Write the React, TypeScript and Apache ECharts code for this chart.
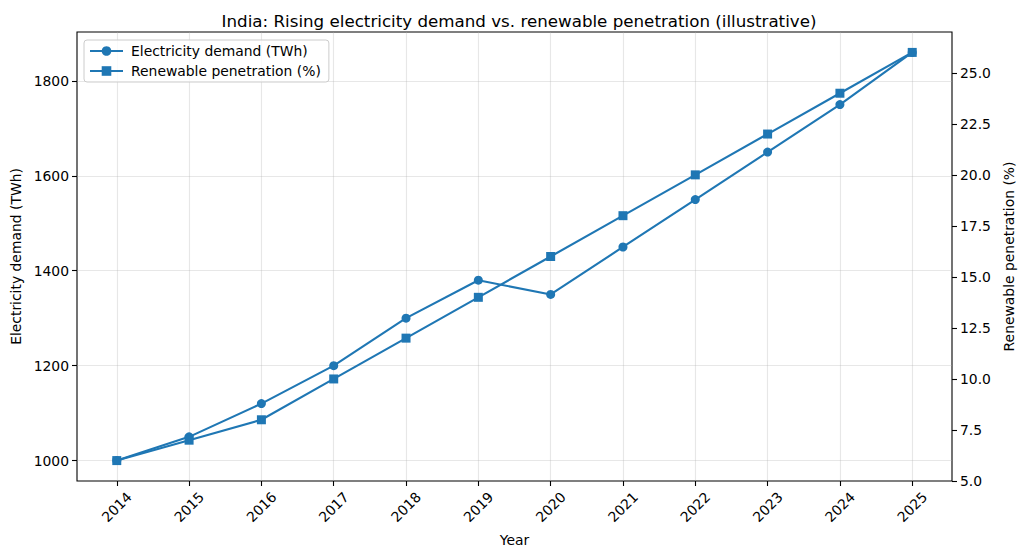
import React, { useEffect, useRef } from "react";
import * as echarts from "echarts";

const years = [2014, 2015, 2016, 2017, 2018, 2019, 2020, 2021, 2022, 2023, 2024, 2025];
const demandTWh = [1000, 1050, 1120, 1200, 1300, 1380, 1350, 1450, 1550, 1650, 1750, 1860];
const renewablePct = [6, 7, 8, 10, 12, 14, 16, 18, 20, 22, 24, 26];
const leftTicks = [1000, 1200, 1400, 1600, 1800];
const rightTicks = [5, 7.5, 10, 12.5, 15, 17.5, 20, 22.5, 25];

const FONT = "DejaVu Sans";
const BLUE = "#1f77b4";

export default function App() {
  const ref = useRef<HTMLDivElement>(null);
  useEffect(() => {
    if (!ref.current) return;
    const chart = echarts.init(ref.current, undefined, { renderer: "svg" });
    const tickStyle = { show: true, length: 5, inside: false, lineStyle: { color: "#000", width: 1.1 } };
    chart.setOption({
      animation: false,
      textStyle: { fontFamily: FONT, color: "#000" },
      title: {
        text: "India: Rising electricity demand vs. renewable penetration (illustrative)",
        left: 514,
        textAlign: "center",
        top: 7,
        textStyle: { fontFamily: FONT, fontSize: 16.7, fontWeight: "normal", color: "#000" },
      },
      grid: {
        left: 77,
        right: 72,
        top: 32,
        bottom: 77,
        show: true,
        borderColor: "#000",
        borderWidth: 1.1,
        backgroundColor: "transparent",
      },
      legend: {
        orient: "vertical",
        left: 84,
        top: 40,
        padding: [4, 8, 4, 5],
        itemWidth: 33,
        itemHeight: 12,
        itemGap: 6,
        backgroundColor: "rgba(255,255,255,0.8)",
        borderColor: "#cccccc",
        borderWidth: 1,
        borderRadius: 3,
        textStyle: { fontFamily: FONT, fontSize: 13.9, color: "#000", padding: [0, 0, 0, 3] },
        data: ["Electricity demand (TWh)", "Renewable penetration (%)"],
      },
      xAxis: {
        type: "value",
        min: 2013.45,
        max: 2025.55,
        name: "Year",
        nameLocation: "middle",
        nameGap: 52,
        nameTextStyle: { fontFamily: FONT, fontSize: 13.9, color: "#000" },
        axisLine: { show: false },
        axisTick: { ...tickStyle, customValues: years },
        axisLabel: {
          customValues: years,
          rotate: 45,
          align: "center",
          verticalAlign: "middle",
          fontFamily: FONT,
          fontSize: 13.9,
          color: "#000",
          margin: 26,
          formatter: (v: number) => String(v),
        },
        splitLine: { show: true, lineStyle: { color: "#b0b0b0", opacity: 0.3, width: 1.1 } },
      },
      yAxis: [
        {
          type: "value",
          position: "left",
          min: 956.95,
          max: 1903.0,
          name: "Electricity demand (TWh)",
          nameLocation: "middle",
          nameGap: 53,
          nameTextStyle: { fontFamily: FONT, fontSize: 13.9, color: "#000" },
          axisLine: { show: false },
          axisTick: { ...tickStyle, customValues: leftTicks },
          axisLabel: {
            customValues: leftTicks,
            fontFamily: FONT,
            fontSize: 13.9,
            color: "#000",
            margin: 8,
            formatter: (v: number) => String(v),
          },
          splitLine: { show: true, lineStyle: { color: "#b0b0b0", opacity: 0.3, width: 1.1 } },
        },
        {
          type: "value",
          position: "right",
          min: 5,
          max: 27,
          name: "Renewable penetration (%)",
          nameLocation: "middle",
          nameGap: 48,
          nameRotate: 90,
          nameTextStyle: { fontFamily: FONT, fontSize: 13.9, color: "#000" },
          axisLine: { show: false },
          axisTick: { ...tickStyle, customValues: rightTicks },
          axisLabel: {
            customValues: rightTicks,
            fontFamily: FONT,
            fontSize: 13.9,
            color: "#000",
            margin: 8,
            formatter: (v: number) => v.toFixed(1),
          },
          splitLine: { show: false },
        },
      ],
      series: [
        {
          name: "Electricity demand (TWh)",
          type: "line",
          yAxisIndex: 0,
          data: years.map((y, i) => [y, demandTWh[i]]),
          symbol: "circle",
          symbolSize: 9,
          showAllSymbol: true,
          lineStyle: { color: BLUE, width: 2.1 },
          itemStyle: { color: BLUE },
        },
        {
          name: "Renewable penetration (%)",
          type: "line",
          yAxisIndex: 1,
          data: years.map((y, i) => [y, renewablePct[i]]),
          symbol: "rect",
          symbolSize: 9,
          showAllSymbol: true,
          lineStyle: { color: BLUE, width: 2.1 },
          itemStyle: { color: BLUE },
        },
      ],
    });
    return () => chart.dispose();
  }, []);
  return (
    <div
      ref={ref}
      style={{ position: "fixed", left: 0, top: 0, width: 1024, height: 558, background: "#fff" }}
    />
  );
}
